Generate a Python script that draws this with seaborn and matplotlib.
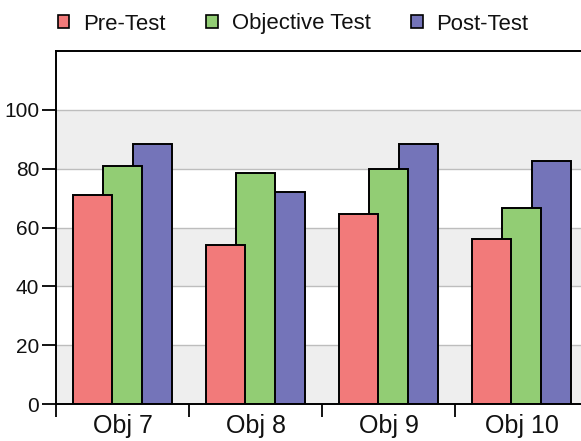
import matplotlib
matplotlib.use("Agg")
import matplotlib.pyplot as plt
import seaborn as sns
import numpy as np
from matplotlib.patches import Patch

categories = ["Obj 7", "Obj 8", "Obj 9", "Obj 10"]
series = ["Pre-Test", "Objective Test", "Post-Test"]
pre_test = [71, 54, 64.5, 56]
objective_test = [81, 78.5, 80, 66.5]
post_test = [88.5, 72, 88.5, 82.5]
yticks = [0, 20, 40, 60, 80, 100]

colors = {"Pre-Test": "#f27a7a", "Objective Test": "#92cd74", "Post-Test": "#7474b9"}

sns.set_theme(style="white")
plt.rcParams['font.family'] = ['Liberation Sans', 'DejaVu Sans']

fig = plt.figure(figsize=(5.81, 4.41), dpi=100)
ax = fig.add_axes([56/581, 1-404/441, (588-56)/581, (404-51)/441])

idx = np.arange(len(categories))
offsets = {"Pre-Test": -0.2256, "Objective Test": 0.0, "Post-Test": 0.2256}
values = {"Pre-Test": pre_test, "Objective Test": objective_test, "Post-Test": post_test}

# background bands
for lo in (0, 40, 80):
    ax.axhspan(lo, lo + 20, color="#eeeeee", zorder=0, lw=0)
for y in yticks[1:]:
    ax.axhline(y, color="#bdbdbd", lw=1.0, zorder=0.5)

# draw back-to-front: Post, Objective, Pre
for s in ["Post-Test", "Objective Test", "Pre-Test"]:
    sns.barplot(x=idx + offsets[s], y=values[s], native_scale=True, width=0.293,
                color=colors[s], edgecolor="black", linewidth=1.4, saturation=1,
                ax=ax, zorder=2)

ax.set_xlim(-0.5, 3.5)
ax.set_ylim(0, 120)
ax.set_yticks(yticks)
ax.set_yticklabels([str(v) for v in yticks], fontsize=15, color="#111111")
ax.set_xticks(idx)
ax.set_xticklabels(categories, fontsize=18, color="#111111")
ax.set_xticks(np.arange(-0.5, 4.0, 1.0), minor=True)
ax.tick_params(axis="x", which="major", length=0, pad=7)
ax.tick_params(axis="x", which="minor", length=9, width=1.3, color="black", direction="out", bottom=True)
ax.tick_params(axis="y", which="major", length=10, width=1.3, color="black", direction="out", left=True, pad=2)
ax.set_xlabel("")
ax.set_ylabel("")
for sp in ["left", "bottom", "top"]:
    ax.spines[sp].set_visible(True)
    ax.spines[sp].set_color("black")
    ax.spines[sp].set_linewidth(1.4)
ax.spines["right"].set_visible(False)

handles = [Patch(facecolor=colors[s], edgecolor="black", linewidth=1.2) for s in series]
leg = fig.legend(handles, series, loc="center left", bbox_to_anchor=(58/581, 1-24/441),
                 ncol=3, frameon=False, handlelength=0.52, handleheight=0.52,
                 handletextpad=0.62, columnspacing=1.85, borderpad=0, borderaxespad=0,
                 prop={'size': 15.9})
for t in leg.get_texts():
    t.set_color("#111111")

fig.savefig("out.png", dpi=100)
